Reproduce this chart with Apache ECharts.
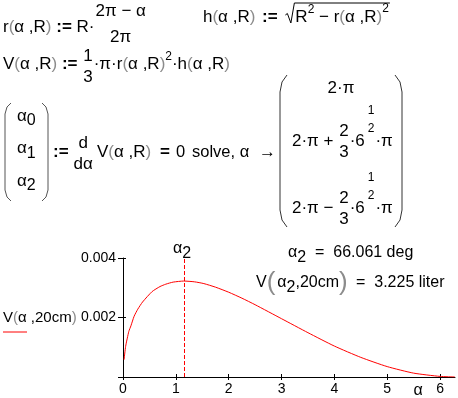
<!DOCTYPE html>
<html>
<head>
<meta charset="utf-8">
<script src="https://cdn.jsdelivr.net/npm/echarts@6/dist/echarts.min.js"></script>
<style>
  html, body { margin: 0; padding: 0; background: #fff; }
  #chart { width: 458px; height: 398px; }
</style>
</head>
<body>
<div id="chart"></div>
<script>
// values: alpha in rad, V in m^3 (R = 20 cm)
var alphaVals  = [0.02, 0.05, 0.11, 0.15, 0.21, 0.28, 0.37, 0.55, 0.7, 0.81, 0.95, 1.15, 1.35, 1.53, 1.75, 2.0, 2.25, 2.5, 3.0, 3.5, 4.0, 4.5, 5.0, 5.5, 6.0, 6.28];
var volumeVals = [0.00058, 0.00103, 0.00153, 0.00172, 0.00204, 0.00228, 0.00252, 0.00287, 0.00304, 0.00312, 0.00319, 0.003225, 0.0032, 0.00314, 0.00302, 0.00285, 0.00265, 0.00243, 0.00196, 0.00149, 0.00104, 0.00066, 0.00035, 0.00013, 0.00002, 0.0];
var alpha2 = 1.153;           // 66.061 deg
var xTicks = [0, 1, 2, 3, 4, 5, 6];
var yTicks = [0, 0.002, 0.004];
var yLabels = [0.002, 0.004];

var FF = '"Liberation Sans", Arial, sans-serif';
var GRAY = '#8c8c8c';
var FS = 17;

var ctx = document.createElement('canvas').getContext('2d');
function tw(s, size, bold) {
  ctx.font = (bold ? 'bold ' : '') + size + 'px ' + FF;
  return ctx.measureText(s).width;
}
function txt(x, y, s, size, extra) {
  return {
    type: 'text', x: x, y: y, silent: true,
    style: Object.assign({
      text: s, fontSize: size || FS, fontFamily: FF, fill: '#000',
      align: 'left', verticalAlign: 'middle'
    }, extra || {})
  };
}
// lay out pieces one after another on a line centred at y
var lastX = 0;
function seq(x0, y, parts, defSize) {
  var x = x0, out = [];
  parts.forEach(function (p) {
    if (typeof p === 'string') p = { t: p };
    var size = p.s || defSize || FS;
    if (p.frac) {
      var fw = Math.max(tw(p.frac[0], size), tw(p.frac[1], size));
      var cx = x + fw / 2 + 1;
      out.push(txt(cx, y + (p.dn || -11), p.frac[0], size, { align: 'center' }));
      out.push(txt(cx, y + (p.dd || 11), p.frac[1], size, { align: 'center' }));
      x += fw + 2;
    } else {
      out.push(txt(x, y + (p.dy || 0), p.t, size, { fill: p.c || '#000', fontWeight: p.b ? 'bold' : 'normal' }));
      x += tw(p.t, size, p.b);
    }
    x += p.g || 0;
  });
  lastX = x;
  return out;
}
function args(inner, size) {
  return [{ t: '(', c: GRAY, s: size }, { t: inner, s: size }, { t: ')', c: GRAY, s: size }];
}
function poly(points, color) {
  return { type: 'polyline', silent: true, shape: { points: points }, style: { stroke: color || '#000', lineWidth: 1, fill: null } };
}

var els = [];
// r(α,R) := R·(2π−α)/(2π)
els = els.concat(seq(3, 27, ['r'].concat(args('α ,R'), [' ', { t: ':=', b: true }, ' R·',
  { frac: ['2π − α', '2π'], dn: -16, dd: 10 }])));

// h(α,R) := sqrt(R² − r(α,R)²)
els = els.concat(seq(203, 17, ['h'].concat(args('α ,R'), [{ t: ' ', g: 2 }, { t: ':=', b: true }, ' '])));
var rx = lastX + 3;
els = els.concat(seq(rx + 10, 17, ['R', { t: '2', s: 12, dy: -7 }, ' − r'].concat(args('α ,R'), [{ t: '2', s: 12, dy: -8 }])));
els.push(poly([[rx, 15], [rx + 2, 13.5], [rx + 5.5, 23], [rx + 9, 3], [lastX + 1, 3]]));

// V(α,R) := 1/3·π·r(α,R)²·h(α,R)
els = els.concat(seq(3, 64, ['V'].concat(args('α ,R'), [' ', { t: ':=', b: true }, ' ',
  { frac: ['1', '3'], dn: -8, dd: 13 }, '·π·r'], args('α ,R'), [{ t: '2', s: 12, dy: -7 }, '·h'], args('α ,R'))));

// (α0 α1 α2) := d/dα V(α,R) = 0 solve, α →
els.push(poly([[11, 103], [7, 107], [5, 114], [5, 190], [7, 197], [11, 201]], '#555'));
els.push(poly([[42, 103], [46, 107], [48, 114], [48, 190], [46, 197], [42, 201]], '#555'));
['0', '1', '2'].forEach(function (k, i) {
  els = els.concat(seq(17, 116 + i * 32.5, ['α', { t: k, dy: 5, s: 16 }]));
});
els = els.concat(seq(53, 152, [{ t: ':=', b: true, g: 4 }, { frac: ['d', 'dα'], dn: -9, dd: 12 }]));
els = els.concat(seq(97, 152, ['V'].concat(args('α ,R'))));
els = els.concat(seq(160, 152, [{ t: '=', b: true }]));
els = els.concat(seq(176, 152, ['0'], 16.5));
els = els.concat(seq(192, 152, ['solve, α'], 16.5));
els = els.concat(seq(259, 152, ['→']));

// result vector
els.push(poly([[287, 75], [282, 82], [280, 92], [280, 210], [282, 220], [287, 227]], '#333'));
els.push(poly([[395, 75], [400, 82], [402, 92], [402, 210], [400, 220], [395, 227]], '#333'));
els.push(txt(341, 88, '2·π', FS, { align: 'center' }));
[['+', 141], ['−', 208]].forEach(function (r) {
  els = els.concat(seq(292, r[1], ['2·π ' + r[0] + ' ', { frac: ['2', '3'], dn: -10, dd: 11 }, { t: '·6', g: 2 },
    { frac: ['1', '2'], s: 12, dn: -30, dd: -12 }, '·π']));
});

// plot annotations
els = els.concat(seq(173, 249, ['α', { t: '2', dy: 5 }], 16));
els = els.concat(seq(288, 253, ['α', { t: '2', dy: 5 }], 16));
els = els.concat(seq(315, 253, ['=  66.061 deg'], 16));
els = els.concat(seq(256, 283, ['V', { t: '(', s: 26, c: GRAY, g: 2 }, 'α', { t: '2', dy: 5 }, ',20cm',
  { t: ')', s: 26, c: GRAY }], 16));
els = els.concat(seq(356, 283, ['=  3.225 liter'], 16));
els = els.concat(seq(3, 318, ['V'].concat(args('α ,20cm', 15)), 15));
els.push({ type: 'line', silent: true, shape: { x1: 3, y1: 332, x2: 27, y2: 332 }, style: { stroke: '#ff0000', lineWidth: 1 } });
els.push(txt(418, 391, 'α', 16, { align: 'center' }));

var data = alphaVals.map(function (a, i) { return [a, volumeVals[i]]; });

var chart = echarts.init(document.getElementById('chart'));
var axisBase = {
  type: 'value', min: 0,
  axisLine: { show: true, lineStyle: { color: '#000', width: 1 } },
  splitLine: { show: false }
};
chart.setOption({
  animation: false,
  backgroundColor: '#fff',
  grid: { left: 123, right: 3, top: 258, bottom: 21 },
  xAxis: [
    Object.assign({}, axisBase, {
      max: 2 * Math.PI, interval: 1,
      axisTick: { customValues: xTicks, length: 3, lineStyle: { color: '#000' } },
      axisLabel: { customValues: xTicks, fontSize: 14, fontFamily: FF, color: '#000', margin: 5 }
    }),
    Object.assign({}, axisBase, {
      max: 2 * Math.PI, position: 'bottom', axisLine: { show: false },
      axisTick: { customValues: xTicks, inside: true, length: 3, lineStyle: { color: '#000' } },
      axisLabel: { show: false }
    })
  ],
  yAxis: [
    Object.assign({}, axisBase, {
      max: 0.004, interval: 0.002,
      axisTick: { show: true, customValues: yTicks, length: 5, lineStyle: { color: '#000' } },
      axisLabel: {
        customValues: yLabels, fontSize: 14, fontFamily: FF, color: '#000', margin: 7,
        formatter: function (v) { return v.toFixed(3); }
      }
    }),
    Object.assign({}, axisBase, {
      max: 0.004, position: 'left', axisLine: { show: false },
      axisTick: { show: true, customValues: yTicks, inside: true, length: 3, lineStyle: { color: '#000' } },
      axisLabel: { show: false }
    })
  ],
  series: [{
    type: 'line',
    data: data,
    smooth: 0.2,
    showSymbol: false,
    lineStyle: { color: '#ff0000', width: 1 },
    markLine: {
      silent: true, symbol: 'none', label: { show: false },
      lineStyle: { color: '#ff0000', type: [4, 2], width: 1 },
      data: [{ xAxis: alpha2 }]
    }
  }],
  graphic: els
});
</script>
</body>
</html>
